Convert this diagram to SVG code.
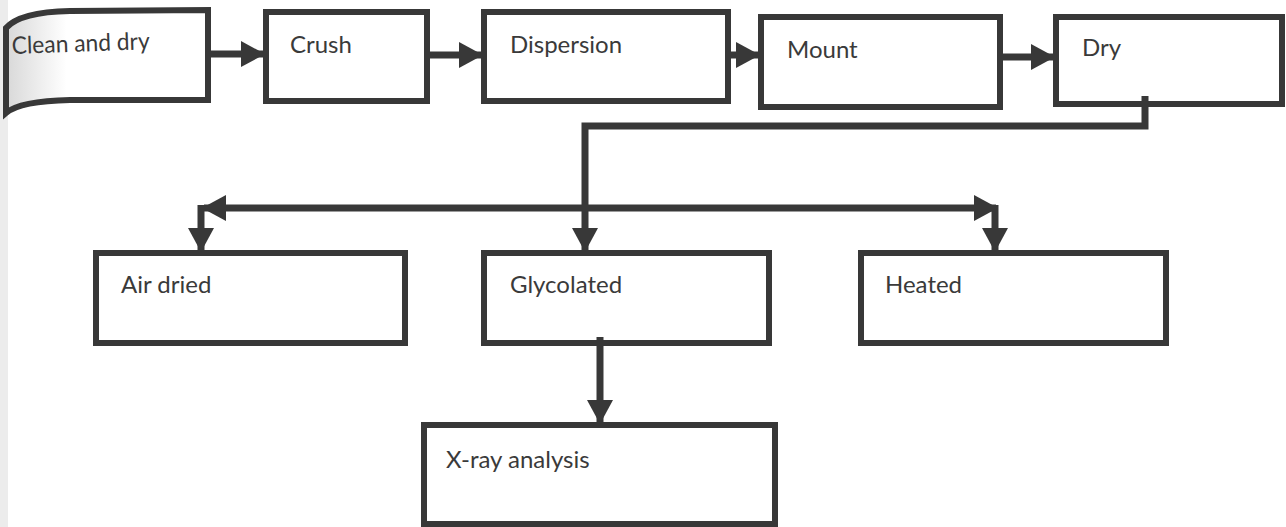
<svg xmlns="http://www.w3.org/2000/svg" width="1286" height="527" viewBox="0 0 1286 527">
<defs>
<style>
.box{fill:#fff;stroke:#383838;stroke-width:6}
.lbl{font-family:Lato,"Open Sans",sans-serif;font-size:24px;fill:#3a3a3a}
.con{fill:none;stroke:#383838;stroke-width:7}
</style>
<marker id="ah" markerUnits="userSpaceOnUse" markerWidth="24" markerHeight="26" viewBox="0 0 24 26" refX="22" refY="13" orient="auto">
<polygon points="0,0 24,13 0,26" fill="#383838"/>
</marker>
<linearGradient id="curl" x1="0" y1="0" x2="1" y2="0">
<stop offset="0" stop-color="#d8d8d8"/>
<stop offset="0.3" stop-color="#fff"/>
</linearGradient>
</defs>
<rect width="1286" height="527" fill="#fff"/>
<rect x="0" y="0" width="8" height="527" fill="#ececec"/>
<g id="n-clean">
<path class="box" style="fill:url(#curl)" d="M6,28 Q20,12 70,11 L208,10 L208,100 L70,100 Q20,101 6,113 Z"/>
<text class="lbl" x="12" y="54" transform="rotate(-2 12 54)" textLength="138" lengthAdjust="spacingAndGlyphs">Clean and dry</text>
</g>
<g id="n-crush">
<rect class="box" x="266" y="12" width="161" height="89"/>
<text class="lbl" x="290" y="53">Crush</text>
</g>
<g id="n-dispersion">
<rect class="box" x="484" y="12" width="244" height="89"/>
<text class="lbl" x="510" y="53">Dispersion</text>
</g>
<g id="n-mount">
<rect class="box" x="761" y="17" width="239" height="90"/>
<text class="lbl" x="787" y="58">Mount</text>
</g>
<g id="n-dry">
<rect class="box" x="1056" y="17" width="226" height="87"/>
<text class="lbl" x="1082" y="56">Dry</text>
</g>
<g id="n-air">
<rect class="box" x="96" y="253" width="309" height="90"/>
<text class="lbl" x="121" y="293">Air dried</text>
</g>
<g id="n-glyc">
<rect class="box" x="484" y="253" width="285" height="90"/>
<text class="lbl" x="510" y="293">Glycolated</text>
</g>
<g id="n-heated">
<rect class="box" x="861" y="253" width="305" height="90"/>
<text class="lbl" x="885" y="293">Heated</text>
</g>
<g id="n-xray">
<rect class="box" x="424" y="425" width="351" height="99"/>
<text class="lbl" x="446" y="468">X-ray analysis</text>
</g>
<g id="connectors">
<line class="con" x1="208" y1="54" x2="263" y2="54" marker-end="url(#ah)"/>
<line class="con" x1="427" y1="55" x2="481" y2="55" marker-end="url(#ah)"/>
<line class="con" x1="728" y1="55" x2="758" y2="55" marker-end="url(#ah)"/>
<line class="con" x1="1000" y1="57" x2="1053" y2="57" marker-end="url(#ah)"/>
<polyline class="con" points="1145,96 1145,126 585,126 585,250" marker-end="url(#ah)"/>
<line class="con" x1="585" y1="208" x2="204" y2="208" marker-end="url(#ah)"/>
<line class="con" x1="585" y1="208" x2="996" y2="208" marker-end="url(#ah)"/>
<line class="con" x1="201" y1="205" x2="201" y2="250" marker-end="url(#ah)"/>
<line class="con" x1="995" y1="205" x2="995" y2="250" marker-end="url(#ah)"/>
<line class="con" x1="600" y1="337" x2="600" y2="422" marker-end="url(#ah)"/>
</g>
</svg>
